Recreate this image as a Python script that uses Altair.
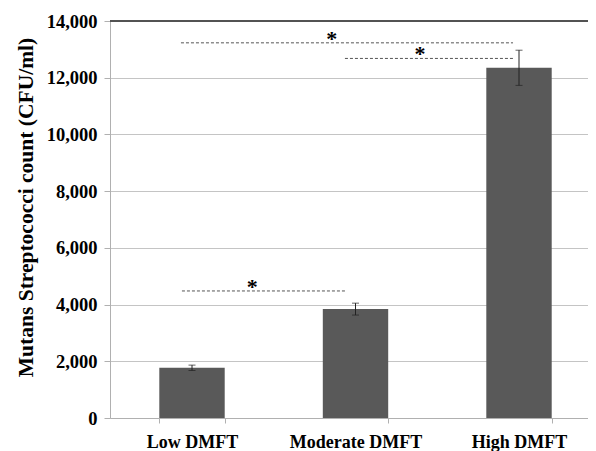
import altair as alt
import pandas as pd

categories = ["Low DMFT", "Moderate DMFT", "High DMFT"]
means = [1770, 3840, 12350]
errors = [95, 210, 620]

# significance brackets (x in category steps measured from the y axis;
# category centres sit at about 0.5, 1.5, 2.5)
sig_x_start = [0.44, 0.434, 1.437]
sig_x_end = [1.44, 2.465, 2.465]
sig_y = [4480, 13230, 12680]
star_x = [0.87, 1.356, 1.896]
star_y = [4480, 13230, 12680]

FONT = "Liberation Serif"
W, H = 478, 397
STEP = 163.5
YTITLE = "Mutans Streptococci count (CFU/ml)"

df = pd.DataFrame({
    "cat": categories,
    "mean": means,
    "lo": [m - e for m, e in zip(means, errors)],
    "hi": [m + e for m, e in zip(means, errors)],
})
sig = pd.DataFrame({"x1": sig_x_start, "x2": sig_x_end, "y": sig_y})
stars = pd.DataFrame({"x": star_x, "y": star_y})

yscale = alt.Scale(domain=[0, 14000], nice=False)
pin = 0.6
pout = (W - STEP * (3 - pin)) / (2 * STEP)
xband = alt.X("cat:N", sort=categories, title=None,
              scale=alt.Scale(paddingInner=pin, paddingOuter=pout, align=0.576),
              axis=alt.Axis(labelAngle=0, tickBand="extent", tickSize=5,
                            labelPadding=10, labelFontSize=18, labelFont=FONT,
                            labelFontWeight="bold", labelColor="#000",
                            domainColor="#b0b0b0", tickColor="#b0b0b0"))
yaxis = alt.Axis(values=list(range(0, 14001, 2000)), format=",.0f",
                 tickSize=6, labelPadding=7, labelFontSize=18.5,
                 labelFont=FONT, labelFontWeight="bold", labelColor="#000",
                 titleFont=FONT, titleFontSize=21.5, titleFontWeight="bold",
                 titleColor="#000", titlePadding=9, titleY=186,
                 grid=True, gridColor="#c4c4c4",
                 domainColor="#b0b0b0", tickColor="#b0b0b0")


def Y(field):
    return alt.Y(field, scale=yscale, title=YTITLE, axis=yaxis)


bars = alt.Chart(df).mark_bar(color="#595959").encode(x=xband, y=Y("mean:Q"))

err = alt.Chart(df).mark_rule(color="#222", strokeWidth=1).encode(
    x=alt.X("cat:N", sort=categories, title=None),
    y=Y("lo:Q"),
    y2="hi:Q",
)
cap_lo = alt.Chart(df).mark_tick(color="#222", size=7, thickness=1).encode(
    x=alt.X("cat:N", sort=categories, title=None),
    y=Y("lo:Q"),
)
cap_hi = alt.Chart(df).mark_tick(color="#222", size=7, thickness=1).encode(
    x=alt.X("cat:N", sort=categories, title=None),
    y=Y("hi:Q"),
)

top_line = alt.Chart(df).mark_rule(color="#505050", strokeWidth=1.5).encode(
    y=alt.YDatum(14000)
)

xq = alt.Scale(domain=[0, W / STEP], nice=False, zero=False)
sig_lines = alt.Chart(sig).mark_rule(color="#555", strokeDash=[3, 2], strokeWidth=1).encode(
    x=alt.X("x1:Q", scale=xq, axis=None),
    x2="x2:Q",
    y=Y("y:Q"),
)
star_text = alt.Chart(stars).mark_text(
    text="*", font=FONT, fontSize=22, fontWeight="bold", color="#000",
    baseline="alphabetic", dy=3,
).encode(
    x=alt.X("x:Q", scale=xq, axis=None),
    y=Y("y:Q"),
)

band_layers = alt.layer(bars, err, cap_lo, cap_hi, top_line)
q_layers = alt.layer(sig_lines, star_text)

chart = alt.layer(band_layers, q_layers).resolve_scale(x="independent").properties(
    width=W, height=H,
    autosize=alt.AutoSizeParams(type="none"),
    padding={"left": 102, "top": 13, "right": 0, "bottom": 33},
    background="white",
).configure_view(stroke=None)

chart.save("out.html", embed_options={"renderer": "svg", "actions": False})
